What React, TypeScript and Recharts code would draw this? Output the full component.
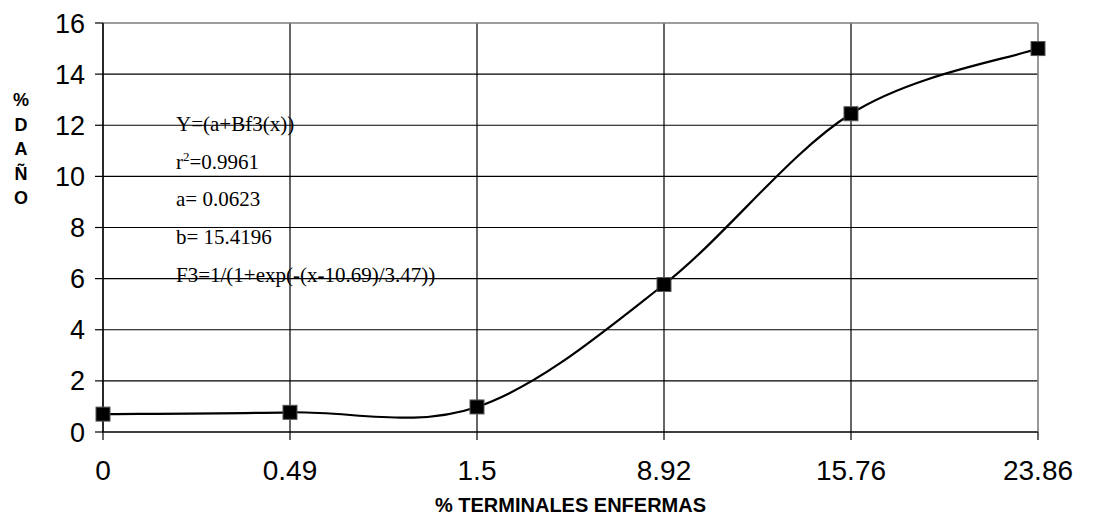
import {
  LineChart,
  Line,
  XAxis,
  YAxis,
  CartesianGrid,
  ReferenceLine,
  Customized,
} from "recharts";

const categories = ["0", "0.49", "1.5", "8.92", "15.76", "23.86"];
const damage = [0.7, 0.77, 0.98, 5.77, 12.45, 15.0];
const yTicks = [0, 2, 4, 6, 8, 10, 12, 14, 16];
const yLabelLetters = ["%", "D", "A", "Ñ", "O"];
const fitLines = ["a= 0.0623", "b= 15.4196", "F3=1/(1+exp(-(x-10.69)/3.47))"];

const data = categories.map((c, i) => ({ x: c, y: damage[i] }));

const sans = "Arial, 'Liberation Sans', sans-serif";
const serif = "'Liberation Serif', 'Times New Roman', serif";

// spreadsheet-style smoothing (catmull-rom through the points)
function smoothCurve(context: any) {
  let pts: number[][] = [];
  return {
    areaStart() {},
    areaEnd() {},
    lineStart() {
      pts = [];
    },
    point(x: number, y: number) {
      pts.push([+x, +y]);
    },
    lineEnd() {
      if (!pts.length) return;
      context.moveTo(pts[0][0], pts[0][1]);
      for (let i = 0; i < pts.length - 1; i++) {
        const p0 = pts[i - 1] || pts[i];
        const p1 = pts[i];
        const p2 = pts[i + 1];
        const p3 = pts[i + 2] || pts[i + 1];
        context.bezierCurveTo(
          p1[0] + (p2[0] - p0[0]) / 6,
          p1[1] + (p2[1] - p0[1]) / 6,
          p2[0] - (p3[0] - p1[0]) / 6,
          p2[1] - (p3[1] - p1[1]) / 6,
          p2[0],
          p2[1]
        );
      }
    },
  };
}

function SquareDot(props: any) {
  const { cx, cy } = props;
  if (cx == null || cy == null) return null;
  return (
    <rect
      x={cx - 7}
      y={cy - 7}
      width={14}
      height={14}
      fill="#000"
      stroke="#555"
      strokeWidth={1}
    />
  );
}

function Annotations() {
  return (
    <g>
      <text x={21} y={106} textAnchor="middle" fontFamily={sans} fontWeight="bold" fontSize={18} fill="#000">
        {yLabelLetters.map((l, i) => (
          <tspan key={l} x={21} dy={i === 0 ? 0 : 24.5}>
            {l}
          </tspan>
        ))}
      </text>
      <g fontFamily={serif} fontSize={21} fill="#000">
        <text x={176} y={131}>Y=(a+Bf3(x))</text>
        <text x={176} y={169}>
          r<tspan dy={-8} fontSize={13}>2</tspan>
          <tspan dy={8}>=0.9961</tspan>
        </text>
        {fitLines.map((t, i) => (
          <text key={t} x={176} y={206 + i * 38}>
            {t}
          </text>
        ))}
      </g>
    </g>
  );
}

export default function App() {
  return (
    <div style={{ margin: "-8px 0 0 -8px", width: 1117, height: 518, background: "#fff" }}>
      <LineChart
        width={1117}
        height={518}
        data={data}
        margin={{ top: 23, right: 79, left: 0, bottom: 0 }}
      >
        <CartesianGrid stroke="#000" strokeWidth={1.2} />
        <ReferenceLine y={16} stroke="#bbb" strokeWidth={1.2} />
        <ReferenceLine x="23.86" stroke="#bbb" strokeWidth={1.2} />
        <XAxis
          dataKey="x"
          height={86}
          stroke="#000"
          strokeWidth={1.2}
          tickSize={8}
          tickMargin={20}
          tick={{ fontSize: 28, fill: "#000", fontFamily: sans }}
          label={{
            value: "% TERMINALES ENFERMAS",
            position: "insideBottom",
            offset: 6,
            fontSize: 20,
            fontWeight: "bold",
            fill: "#000",
            fontFamily: sans,
          }}
        />
        <YAxis
          width={103}
          domain={[0, 16]}
          ticks={yTicks}
          stroke="#000"
          strokeWidth={1.2}
          tickSize={8}
          tickMargin={10}
          tick={{ fontSize: 27, fill: "#000", fontFamily: sans }}
        />
        <Customized component={Annotations} />
        <Line
          dataKey="y"
          type={smoothCurve as any}
          stroke="#000"
          strokeWidth={2.2}
          dot={<SquareDot />}
          activeDot={false}
          isAnimationActive={false}
        />
      </LineChart>
    </div>
  );
}
